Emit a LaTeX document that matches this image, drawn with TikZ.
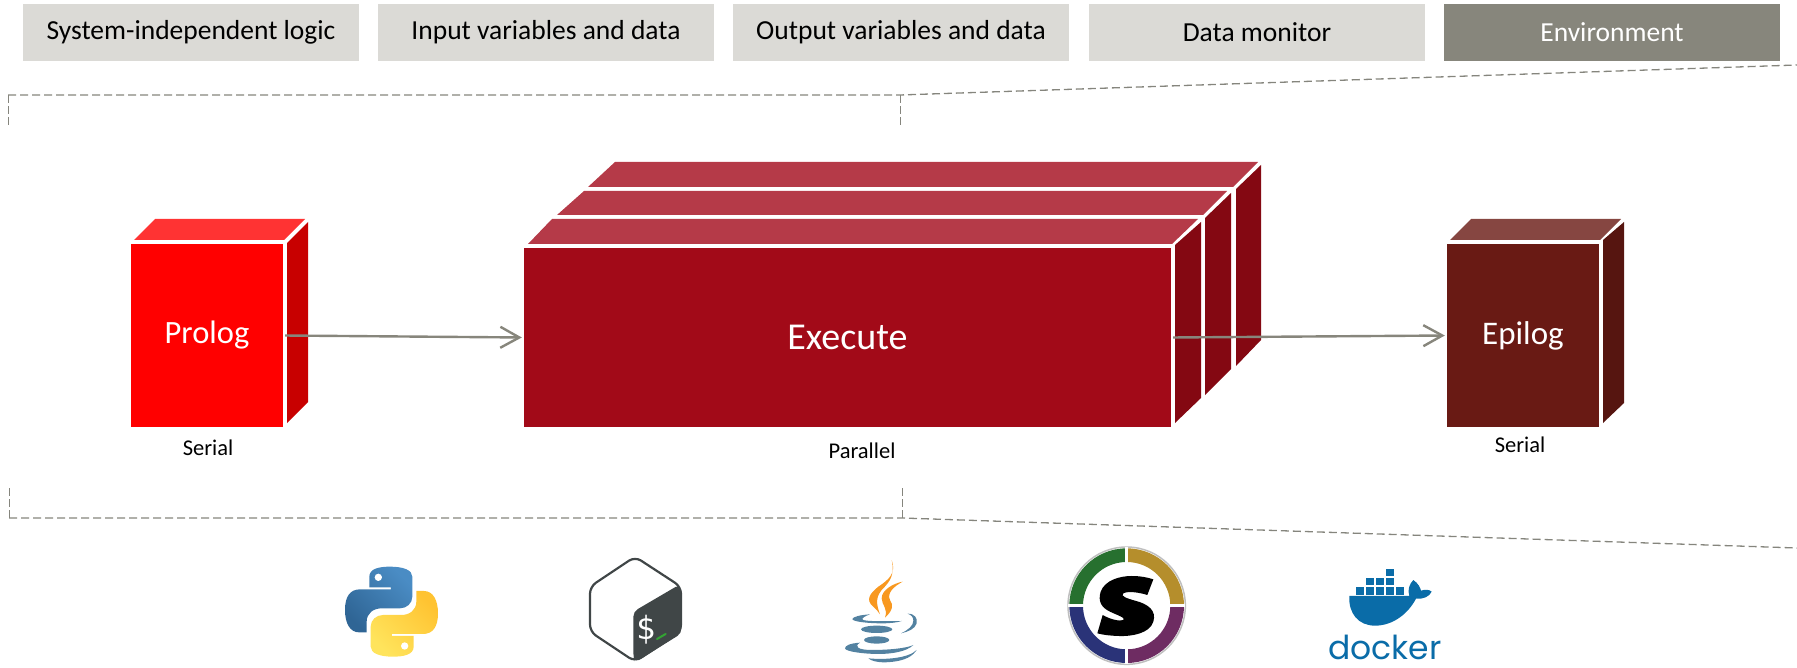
\documentclass[tikz,border=0pt]{standalone}
\usepackage{fontspec}
\setmainfont{Carlito}
\newfontfamily\dockerfont{Poppins}
\newfontfamily\bashfont{DejaVu Sans Mono}
\usetikzlibrary{arrows.meta}
\newcommand{\pxsize}[1]{\fontsize{#1pt}{#1pt}\selectfont}
\definecolor{hdrlight}{HTML}{DBDAD6}
\definecolor{hdrdark}{HTML}{87867C}
\definecolor{dashgray}{HTML}{85857D}
\definecolor{pfront}{HTML}{FF0000}
\definecolor{ptop}{HTML}{FF3333}
\definecolor{pside}{HTML}{C80000}
\definecolor{xfront}{HTML}{A20A18}
\definecolor{xtop}{HTML}{B53A48}
\definecolor{xside}{HTML}{840812}
\definecolor{efront}{HTML}{691A14}
\definecolor{etop}{HTML}{864641}
\definecolor{eside}{HTML}{561510}
\definecolor{dock}{HTML}{0A6CA8}
\definecolor{jav}{HTML}{5382A1}
\definecolor{jor}{HTML}{F89820}
\definecolor{bashd}{HTML}{404647}
\definecolor{pyblueA}{HTML}{4A8CC4}
\definecolor{pyblueB}{HTML}{2F6595}
\definecolor{pyyelA}{HTML}{FFE45C}
\definecolor{pyyelB}{HTML}{FFC331}
\definecolor{sgreen}{HTML}{27702F}
\definecolor{sgold}{HTML}{B58E2C}
\definecolor{sblue}{HTML}{2A3378}
\definecolor{spurple}{HTML}{6E2C62}
\tikzset{
  hdr/.style={fill=hdrlight,text=black,inner sep=0pt,minimum width=336pt,minimum height=57pt,font=\pxsize{27.5}},
  hdrenv/.style={hdr,fill=hdrdark,text=white},
  face/.style={inner sep=0pt,text=white},
  caption/.style={inner sep=0pt,text=black,font=\pxsize{22.5}},
  bracket/.style={draw=dashgray,line width=1.3pt,dash pattern=on 8pt off 4pt},
  tick/.style={draw=dashgray,line width=0.9pt,dash pattern=on 8pt off 3pt},
  flow/.style={draw=hdrdark,line width=2.4pt,-{Straight Barb[length=19pt,width=21pt,line width=2.4pt]},shorten >=2pt,shorten <=2pt},
  icon/.style={x=0.3333pt,y=-0.3333pt},
}
\newcommand{\snakepath}{(165,35) .. controls (135,35) and (103,40) .. (103,65) -- (103,97) -- (168,97) -- (168,103) -- (75,103) .. controls (45,103) and (30,125) .. (30,165) .. controls (30,205) and (45,232) .. (72,232) -- (95,232) -- (95,200) .. controls (95,175) and (115,160) .. (140,160) -- (195,160) .. controls (215,160) and (232,145) .. (232,125) -- (232,65) .. controls (232,45) and (205,35) .. (165,35) -- cycle}
\newcommand{\ringpart}[3]{\fill[#1] (#2:172) arc[start angle=#2,end angle=#3,radius=172] -- (#3:131) arc[start angle=#3,end angle=#2,radius=131] -- cycle;}
\begin{document}
\begin{tikzpicture}[x=1pt,y=-1pt]
\useasboundingbox (0,0) rectangle (1797,668);
% header
\node[hdr] (h1) at (191,32.5) {System-independent logic};
\node[hdr] (h2) at (546,32.5) {Input variables and data};
\node[hdr] (h3) at (901,32.5) {Output variables and data};
\node[hdr] (h4) at (1257,32.5) {Data monitor};
\node[hdrenv] (h5) at (1612,32.5) {Environment};
% brackets
\coordinate (tl) at (8,95);
\coordinate (tlb) at (8,125);
\coordinate (tm) at (900,95);
\coordinate (tmb) at (900,125);
\coordinate (tr) at (1797,65);
\coordinate (bl) at (9,518);
\coordinate (blt) at (9,488);
\coordinate (bm) at (902,518);
\coordinate (bmt) at (902,488);
\coordinate (br) at (1797,548);
\path[bracket] (tl) -- (tm) -- (tr);
\path[tick] (tl) -- (tlb);
\path[tick] (tm) -- (tmb);
\path[bracket] (bl) -- (bm) -- (br);
\path[tick] (blt) -- (bl);
\path[tick] (bmt) -- (bm);
% prolog
\fill[ptop] (134,240) -- (155,219) -- (305,219) -- (284,240) -- cycle;
\fill[pside] (287,243) -- (308,222) -- (308,402) -- (287,423) -- cycle;
\node[face,fill=pfront,minimum width=152pt,minimum height=183pt] (prolog) at (207,335.5) {};
% execute
\fill[xtop] (588,187) -- (615,162) -- (1258,162) -- (1233,187) -- cycle;
\fill[xtop] (557,215) -- (584,191) -- (1227,191) -- (1203,215) -- cycle;
\fill[xtop] (528,244) -- (552,219) -- (1198,219) -- (1172,244) -- cycle;
\fill[xside] (1236,189) -- (1261,165) -- (1261,340) -- (1236,366) -- cycle;
\fill[xside] (1205,218) -- (1231,193) -- (1231,369) -- (1205,395) -- cycle;
\fill[xside] (1175,245) -- (1201,222) -- (1201,398) -- (1175,423) -- cycle;
\node[face,fill=xfront,minimum width=647pt,minimum height=179pt] (execute) at (847.5,337.5) {};
% epilog
\fill[etop] (1450,240) -- (1471,219) -- (1621,219) -- (1600,240) -- cycle;
\fill[eside] (1603,240) -- (1624,222) -- (1624,403) -- (1603,423) -- cycle;
\node[face,fill=efront,minimum width=152pt,minimum height=183pt] (epilog) at (1523,335.5) {};
% connectors
\draw[flow] (prolog.east) -- (execute.west);
\draw[flow] (execute.east) -- (epilog.west);
% labels
\node[face,font=\pxsize{32.5}] (prologt) at (prolog.center) {Prolog};
\node[face,font=\pxsize{38}] (executet) at (execute.center) {Execute};
\node[face,font=\pxsize{33}] (epilogt) at (epilog.center) {Epilog};
\node[caption] (c1) at (208,448) {Serial};
\node[caption] (c2) at (862,451) {Parallel};
\node[caption] (c3) at (1520,445) {Serial};
% python
\begin{scope}[shift={(335,555)},icon]
\path[top color=pyblueA,bottom color=pyblueB,shading angle=-45] \snakepath;
\path[rotate around={180:(169.5,170)},top color=pyyelB,bottom color=pyyelA,shading angle=-45] \snakepath;
\fill[white] (130,67) circle[radius=11];
\fill[white] (209,273) circle[radius=11];
\end{scope}
% bash
\begin{scope}[shift={(580,550)},icon]
\draw[bashd,line width=2.2pt,fill=white,rounded corners=7pt,line join=round] (165,20) -- (303,110) -- (303,245) -- (165,335) -- (30,245) -- (30,110) -- cycle;
\fill[bashd,rounded corners=5pt] (160,185) -- (300,103) -- (305,250) -- (165,337) -- (160,320) -- cycle;
\node[inner sep=0pt,text=white,font={\bashfont\pxsize{32}}] (dollar) at (197,238) {\$};
\draw[line width=2pt,draw=green!55!black!80,line cap=round] (231,267) -- (257,252);
\end{scope}
% java
\begin{scope}[shift={(835,555)},icon]
\fill[jor] (170,15) .. controls (185,55) and (160,75) .. (130,95) .. controls (105,115) and (90,135) .. (115,155) .. controls (125,165) and (130,170) .. (135,178) .. controls (125,150) and (120,130) .. (140,105) .. controls (165,80) and (180,60) .. (170,15) -- cycle;
\fill[jor] (203,80) .. controls (175,85) and (140,105) .. (140,130) .. controls (140,150) and (160,160) .. (150,188) .. controls (175,165) and (175,150) .. (165,135) .. controls (155,115) and (175,95) .. (203,80) -- cycle;
\fill[jav] (105,178) .. controls (75,180) and (55,185) .. (52,192) .. controls (52,200) and (100,205) .. (140,205) .. controls (165,205) and (185,203) .. (200,198) .. controls (175,198) and (130,200) .. (95,197) .. controls (80,196) and (72,190) .. (105,178) -- cycle;
\fill[jav] (218,176) .. controls (240,176) and (248,190) .. (245,205) .. controls (240,222) and (220,230) .. (198,235) .. controls (220,225) and (235,212) .. (235,197) .. controls (235,185) and (228,180) .. (218,176) -- cycle;
\fill[jav] (125,223) ellipse[x radius=47,y radius=11];
\fill[jav] (125,255) ellipse[x radius=38,y radius=11];
\fill[jav] (75,263) .. controls (45,265) and (30,272) .. (30,280) .. controls (30,290) and (90,297) .. (130,297) .. controls (170,297) and (215,290) .. (235,270) .. controls (215,280) and (160,285) .. (110,285) .. controls (70,285) and (55,275) .. (75,263) -- cycle;
\fill[jav] (100,310) .. controls (150,315) and (220,310) .. (245,285) .. controls (235,300) and (215,320) .. (150,322) .. controls (125,322) and (110,318) .. (100,310) -- cycle;
\end{scope}
% singularity
\begin{scope}[shift={(1060,540)},icon]
\fill[white,draw=black!25,line width=1.5pt] (200,197) circle[radius=176];
\begin{scope}[shift={(200,197)}]
\ringpart{sgreen}{180}{270}
\ringpart{sgold}{270}{360}
\ringpart{spurple}{0}{90}
\ringpart{sblue}{90}{180}
\draw[white,line width=2.7pt] (-176,0) -- (-125,0) (125,0) -- (176,0) (0,-176) -- (0,-125) (0,125) -- (0,176);
\end{scope}
\fill[black] (280,118) -- (262,165) .. controls (240,158) and (205,152) .. (190,160) .. controls (180,168) and (200,175) .. (225,182) .. controls (265,192) and (290,212) .. (280,245) .. controls (270,280) and (215,290) .. (175,288) .. controls (150,287) and (130,285) .. (112,280) -- (128,225) .. controls (150,238) and (180,245) .. (190,240) .. controls (198,233) and (170,225) .. (150,215) .. controls (125,203) and (113,185) .. (122,155) .. controls (135,120) and (180,108) .. (215,108) .. controls (240,108) and (262,112) .. (280,118) -- cycle;
\end{scope}
% docker
\begin{scope}[shift={(1320,560)},icon]
\fill[dock] (197,27) rectangle (223,49);
\foreach \a in {137,167,197} \fill[dock] (\a,54) rectangle ++(26,22);
\foreach \a in {107,137,167,197,227} \fill[dock] (\a,82) rectangle ++(26,22);
\fill[dock] (88,108) -- (268,108) .. controls (262,90) and (268,72) .. (280,60) .. controls (295,70) and (302,85) .. (303,92) .. controls (315,88) and (328,88) .. (335,95) .. controls (328,110) and (310,118) .. (288,116) .. controls (265,160) and (220,197) .. (165,197) .. controls (115,197) and (85,160) .. (88,108) -- cycle;
\node[inner sep=0pt,text=dock,font={\dockerfont\pxsize{33}}] (dockert) at (195,262) {docker};
\end{scope}
\end{tikzpicture}
\end{document}
